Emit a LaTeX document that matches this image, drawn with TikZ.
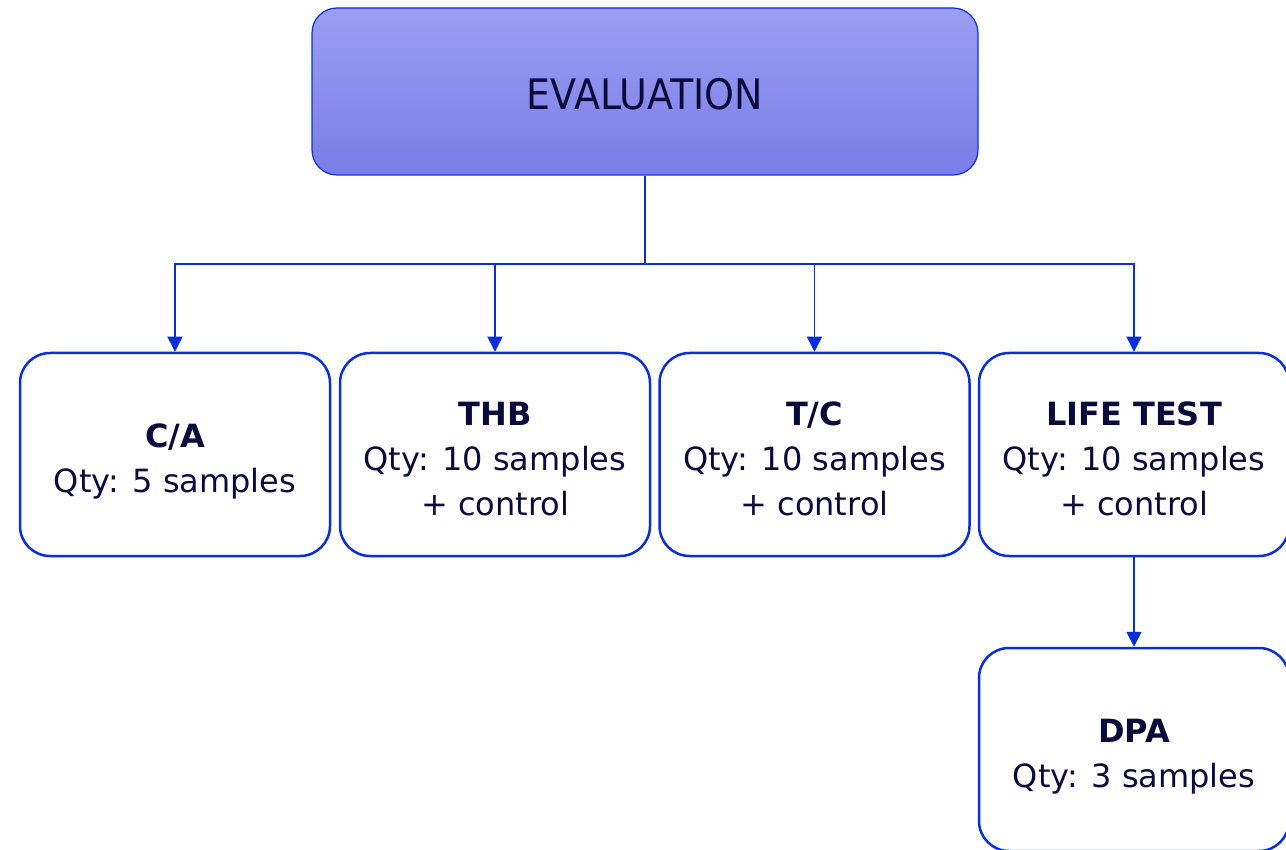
\documentclass[tikz,border=0pt]{standalone}
\usepackage{fontspec}
\setmainfont{DejaVu Sans}
\newfontfamily\evalfont[FakeStretch=0.905]{DejaVu Sans}
\usetikzlibrary{arrows.meta}
\definecolor{lineblue}{HTML}{0A2FD6}
\definecolor{ink}{HTML}{0B0B3B}
\definecolor{topc}{HTML}{9C9EF2}
\definecolor{botc}{HTML}{797DE6}
\newcommand{\topstrut}{\rule{0pt}{38pt}}
\newcommand{\botstrut}{\rule[-6pt]{0pt}{6pt}}
\begin{document}
\begin{tikzpicture}[x=1pt,y=-1pt,
  testbox/.style={draw=lineblue, line width=2.5pt, rounded corners=30pt, fill=white,
    minimum width=310pt, minimum height=203pt, align=center, text=ink,
    font=\fontsize{32}{45}\selectfont, inner sep=0pt},
  conn/.style={draw=lineblue, line width=1.5pt},
  arr/.style={conn, -{Triangle[width=15pt,length=15pt]}}]
\useasboundingbox (0,0) rectangle (1286,850);
\clip (0,0) rectangle (1286,850);
\node[draw=lineblue, line width=1.2pt, rounded corners=25pt, top color=topc, bottom color=botc,
  minimum width=666pt, minimum height=167pt, text=ink, text height=37pt, text depth=0pt,
  font=\evalfont\fontsize{42}{48}\selectfont] (eval) at (645,91.5) {EVALUATION};
\node[testbox] (ca) at (175,454.5) {\topstrut\textbf{C/A}\\Qty: 5 samples\botstrut};
\node[testbox] (thb) at (495,454.5) {\topstrut\textbf{THB}\\Qty: 10 samples\\+ control\botstrut};
\node[testbox] (tc) at (814.5,454.5) {\topstrut\textbf{T/C}\\Qty: 10 samples\\+ control\botstrut};
\node[testbox] (life) at (1134,454.5) {\topstrut\textbf{LIFE TEST}\\Qty: 10 samples\\+ control\botstrut};
\node[testbox] (dpa) at (1134,749.5) {\topstrut\textbf{DPA}\\Qty: 3 samples\botstrut};
\coordinate (bus) at (645,264);
\draw[conn] (eval.south) -- (bus);
\draw[arr] (bus) -| (ca.north);
\draw[arr] (bus) -| (thb.north);
\draw[arr] (bus) -| (tc.north);
\draw[arr] (bus) -| (life.north);
\draw[arr] (life.south) -- (dpa.north);
\end{tikzpicture}
\end{document}
